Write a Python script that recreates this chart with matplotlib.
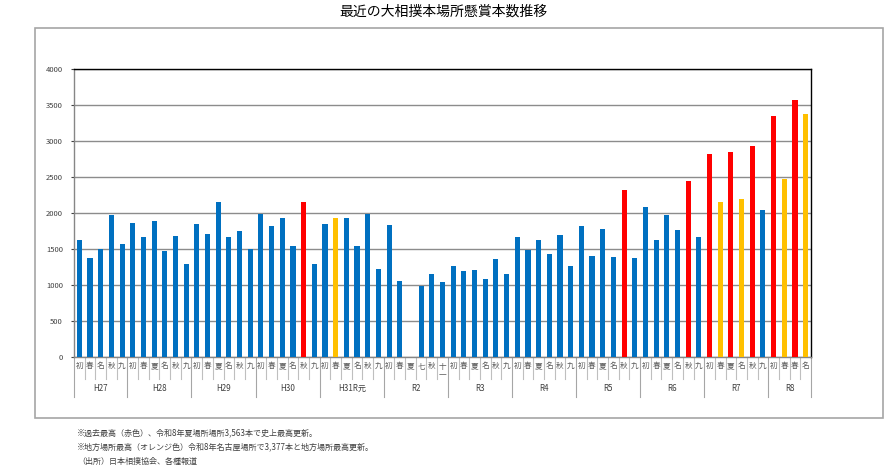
import matplotlib.pyplot as plt
from matplotlib.patches import Rectangle
import numpy as np

plt.rcParams['font.family'] = ['Noto Sans CJK JP', 'DejaVu Sans']

# Year groups and basho labels (as shown on the chart)
years = ["H27", "H28", "H29", "H30", "H31R元", "R2", "R3", "R4", "R5", "R6", "R7", "R8"]
basho = [
    ["初", "春", "名", "秋", "九"],
    ["初", "春", "夏", "名", "秋", "九"],
    ["初", "春", "夏", "名", "秋", "九"],
    ["初", "春", "夏", "名", "秋", "九"],
    ["初", "春", "夏", "名", "秋", "九"],
    ["初", "春", "夏", "七", "秋", "十一"],
    ["初", "春", "夏", "名", "秋", "九"],
    ["初", "春", "夏", "名", "秋", "九"],
    ["初", "春", "夏", "名", "秋", "九"],
    ["初", "春", "夏", "名", "秋", "九"],
    ["初", "春", "夏", "名", "秋", "九"],
    ["初", "春", "春", "名"],
]

# Prize banner counts per basho (0 = no tournament)
counts = [
    [1625, 1370, 1505, 1975, 1575],
    [1865, 1662, 1885, 1472, 1676, 1296],
    [1848, 1704, 2148, 1667, 1746, 1495],
    [1992, 1820, 1936, 1537, 2158, 1296],
    [1843, 1930, 1935, 1546, 1987, 1226],
    [1829, 1059, 0, 989, 1147, 1036],
    [1263, 1189, 1207, 1082, 1365, 1156],
    [1667, 1491, 1625, 1426, 1699, 1259],
    [1819, 1398, 1783, 1384, 2320, 1370],
    [2089, 1625, 1978, 1760, 2450, 1667],
    [2817, 2148, 2849, 2195, 2928, 2038],
    [3350, 2479, 3563, 3377],
]

# b = normal, r = record high, o = record high for regional basho
kinds = [
    "bbbbb",
    "bbbbbb",
    "bbbbbb",
    "bbbbrb",
    "bobbbb",
    "bbbbbb",
    "bbbbbb",
    "bbbbbb",
    "bbbbrb",
    "bbbbrb",
    "rororb",
    "roro",
]

colors = {"b": "#0070C0", "r": "#FF0000", "o": "#FFC000"}

labels = [l for grp in basho for l in grp]
values = [v for grp in counts for v in grp]
bar_colors = [colors[k] for grp in kinds for k in grp]
n = len(values)
x = np.arange(n)

fig = plt.figure(figsize=(8.86, 4.70), dpi=100)
fig.patches.append(Rectangle((35 / 886, 52 / 470), 848 / 886, 390 / 470,
                             transform=fig.transFigure, fill=False,
                             edgecolor="#A6A6A6", linewidth=1.2))
fig.text(0.5, 1 - 12 / 470, "最近の大相撲本場所懸賞本数推移", ha="center", va="center",
         fontsize=10, color="#000000")

ax = fig.add_axes([74 / 886, 113 / 470, 737 / 886, 288 / 470])
ax.bar(x, values, width=0.48, color=bar_colors, zorder=3)
ax.set_xlim(-0.5, n - 0.5)
ax.set_ylim(0, 4000)
ax.set_yticks(np.arange(0, 4001, 500))
ax.tick_params(axis="y", labelsize=5.5, length=2, colors="#404040", pad=6)
ax.set_xticks([])
ax.yaxis.grid(True, color="#8C8C8C", linewidth=1.0, zorder=0)
ax.spines["top"].set_color("#000000")
ax.spines["right"].set_color("#000000")
ax.spines["left"].set_color("#868686")
ax.spines["bottom"].set_color("#868686")
for s in ax.spines.values():
    s.set_linewidth(1.0)

# Two level category axis
trans = ax.get_xaxis_transform()
for i, lab in enumerate(labels):
    if lab == "十一":
        ax.text(i, -0.02, "十\n一", transform=trans, ha="center", va="top",
                fontsize=5.5, color="#595959", linespacing=1.0)
    else:
        ax.text(i, -0.032, lab, transform=trans, ha="center", va="center",
                fontsize=5.5, color="#595959")

start = 0
bounds = [-0.5]
for yr, grp in zip(years, basho):
    end = start + len(grp)
    ax.text((start + end - 1) / 2, -0.108, yr, transform=trans, ha="center",
            va="center", fontsize=5.8, color="#404040")
    bounds.append(end - 0.5)
    start = end

for b in np.arange(-0.5, n, 1.0):
    if b in bounds:
        continue
    ax.plot([b, b], [0, -0.075], transform=trans, color="#BFBFBF",
            linewidth=0.8, clip_on=False)
for b in bounds:
    ax.plot([b, b], [0, -0.14], transform=trans, color="#A6A6A6",
            linewidth=0.8, clip_on=False)

notes = [
    "※過去最高（赤色）、令和8年夏場所場所3,563本で史上最高更新。",
    "※地方場所最高（オレンジ色）令和8年名古屋場所で3,377本と地方場所最高更新。",
    "（出所）日本相撲協会、各種報道",
]
for k, t in enumerate(notes):
    fig.text(77 / 886, 1 - (433 + 14 * k) / 470, t, ha="left", va="center",
             fontsize=5.8, color="#404040")

fig.savefig("out.png", dpi=100)
